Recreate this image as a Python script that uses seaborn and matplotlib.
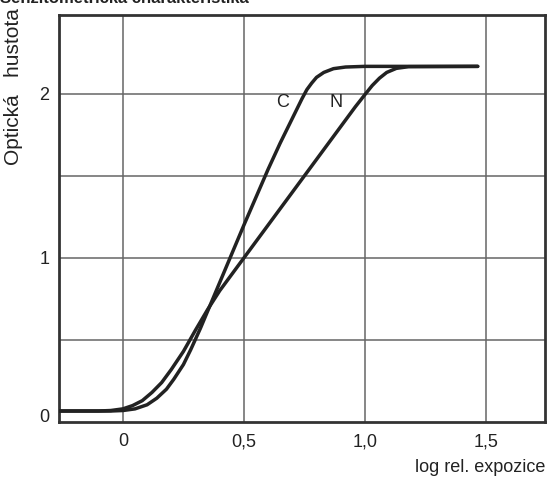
import numpy as np
import pandas as pd
import matplotlib
matplotlib.use("Agg")
import matplotlib.pyplot as plt
import seaborn as sns

# Curve C (steep S-shaped characteristic)
c_logexp = [-0.264, -0.05, 0.0, 0.05, 0.10, 0.14, 0.18, 0.21, 0.25, 0.28, 0.32, 0.35,
            0.40, 0.45, 0.50, 0.55, 0.60, 0.65, 0.69, 0.72, 0.74, 0.76, 0.78, 0.80,
            0.83, 0.87, 0.92, 1.00, 1.466]
c_density = [0.067, 0.067, 0.07, 0.08, 0.105, 0.145, 0.20, 0.26, 0.35, 0.44, 0.57, 0.675,
             0.85, 1.025, 1.20, 1.37, 1.54, 1.70, 1.82, 1.91, 1.97, 2.025, 2.065, 2.10,
             2.13, 2.153, 2.163, 2.167, 2.167]

# Curve N (straighter characteristic)
n_logexp = [-0.264, -0.10, -0.05, 0.0, 0.04, 0.08, 0.12, 0.16, 0.20, 0.25, 0.30, 0.35, 0.40,
            0.50, 0.60, 0.70, 0.80, 0.90, 0.96, 1.00, 1.03, 1.06, 1.09, 1.13, 1.18, 1.466]
n_density = [0.067, 0.067, 0.07, 0.08, 0.10, 0.13, 0.18, 0.24, 0.32, 0.43, 0.56, 0.685, 0.80,
             1.00, 1.20, 1.40, 1.60, 1.80, 1.92, 1.995, 2.05, 2.095, 2.13, 2.155, 2.165, 2.167]

x_ticks = [0, 0.5, 1.0, 1.5]
x_ticklabels = ["0", "0,5", "1,0", "1,5"]
y_ticks = [0.04, 1, 2]
y_ticklabels = ["0", "1", "2"]

sns.set_style("white")
plt.rcParams['font.family'] = ['Liberation Sans', 'DejaVu Sans']

fig = plt.figure(figsize=(5.47, 4.82), dpi=100)
ax = fig.add_axes([59/547, 60/482, 486/547, 407/482])

# grid
for gx in [0, 0.5, 1.0, 1.5]:
    ax.axvline(gx, color="#666666", lw=1.1, zorder=1)
for gy in [0.5, 1.0, 1.5, 2.0]:
    ax.axhline(gy, color="#666666", lw=1.1, zorder=1)

curve_c = pd.DataFrame({"x": c_logexp, "y": c_density})
curve_n = pd.DataFrame({"x": n_logexp, "y": n_density})
sns.lineplot(data=curve_c, x="x", y="y", ax=ax, color="#222222", lw=2.5,
             sort=False, zorder=3)
sns.lineplot(data=curve_n, x="x", y="y", ax=ax, color="#222222", lw=2.5,
             sort=False, zorder=3)

ax.text(0.66, 1.945, "C", fontsize=13, ha="center", va="center", color="#222222")
ax.text(0.88, 1.945, "N", fontsize=13, ha="center", va="center", color="#222222")

ax.set_xlim(-0.264, 1.744)
ax.set_ylim(0, 2.48)
ax.set_xticks(x_ticks)
ax.set_xticklabels(x_ticklabels, fontsize=13, color="#222222")
ax.set_yticks(y_ticks)
ax.set_yticklabels(y_ticklabels, fontsize=13, color="#222222")
ax.tick_params(axis="both", length=0)
ax.tick_params(axis="x", pad=8)
ax.tick_params(axis="y", pad=7)
ax.set_xlabel("")
ax.set_ylabel("")
for s in ax.spines.values():
    s.set_color("#333333")
    s.set_linewidth(2)

fig.text(545/547, 1 - 467/482, "log rel. expozice", fontsize=13, ha="right",
         va="center", color="#222222")
fig.text(14/547, 1 - 8/482, "Optická   hustota", fontsize=15, rotation=90,
         ha="center", va="top", color="#222222")
fig.text(0.0, 1 - 3/482, "Senzitometrická charakteristika", fontsize=12,
         fontweight="bold", ha="left", va="baseline", color="#222222")

fig.savefig("out.png", dpi=100)
